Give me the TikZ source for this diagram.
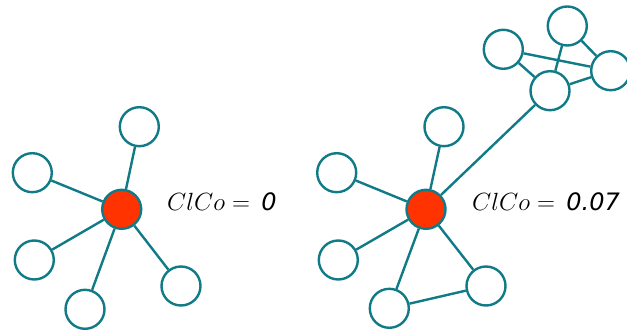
\documentclass[tikz,border=0pt]{standalone}
\usepackage{fontspec}
\newfontfamily\numfont{DejaVu Sans}
\definecolor{teal1}{HTML}{117A87}
\definecolor{hub}{HTML}{FF3300}
\newcommand{\numtxt}[1]{{\numfont\itshape\fontsize{24}{26}\selectfont #1}}
\begin{document}
\begin{tikzpicture}[x=1pt,y=-1pt,
  nd/.style={circle,draw=teal1,line width=2.4pt,fill=white,minimum size=39pt,inner sep=0pt},
  hb/.style={nd,fill=hub},
  ed/.style={draw=teal1,line width=2.4pt},
  lab/.style={anchor=west,inner sep=0pt,font=\fontsize{23.5}{26}\selectfont}]
\useasboundingbox (0,0) rectangle (627,331);
% left graph
\node[hb] (c1) at (121.7,209.3) {};
\node[nd] (t1) at (139.3,126.7) {};
\node[nd] (lu1) at (32.3,172.7) {};
\node[nd] (ll1) at (34.3,260) {};
\node[nd] (b1) at (85,309.3) {};
\node[nd] (br1) at (181,286) {};
\draw[ed] (c1) -- (t1);
\draw[ed] (c1) -- (lu1);
\draw[ed] (c1) -- (ll1);
\draw[ed] (c1) -- (b1);
\draw[ed] (c1) -- (br1);
\node[lab] (l1) at (167,202) {$ClCo = {}$\hspace{4.5pt}\numtxt{0}};
% right graph
\node[hb] (c2) at (426,209.3) {};
\node[nd] (t2) at (444,126.7) {};
\node[nd] (lu2) at (336.7,172.7) {};
\node[nd] (ll2) at (338.3,260) {};
\node[nd] (b2) at (389.3,308.3) {};
\node[nd] (br2) at (486,286) {};
\node[nd] (A) at (503.3,49.3) {};
\node[nd] (B) at (567.3,26) {};
\node[nd] (C) at (610.7,70.7) {};
\node[nd] (D) at (550,90.7) {};
\draw[ed] (c2) -- (t2);
\draw[ed] (c2) -- (lu2);
\draw[ed] (c2) -- (ll2);
\draw[ed] (c2) -- (b2);
\draw[ed] (c2) -- (br2);
\draw[ed] (b2) -- (br2);
\draw[ed] (c2) -- (D);
\draw[ed] (A) -- (C);
\draw[ed] (A) -- (D);
\draw[ed] (B) -- (D);
\draw[ed] (B) -- (C);
\draw[ed] (D) -- (C);
\node[lab] (l2) at (472,202) {$ClCo = {}$\hspace{4.5pt}\numtxt{0.07}};
\end{tikzpicture}
\end{document}
